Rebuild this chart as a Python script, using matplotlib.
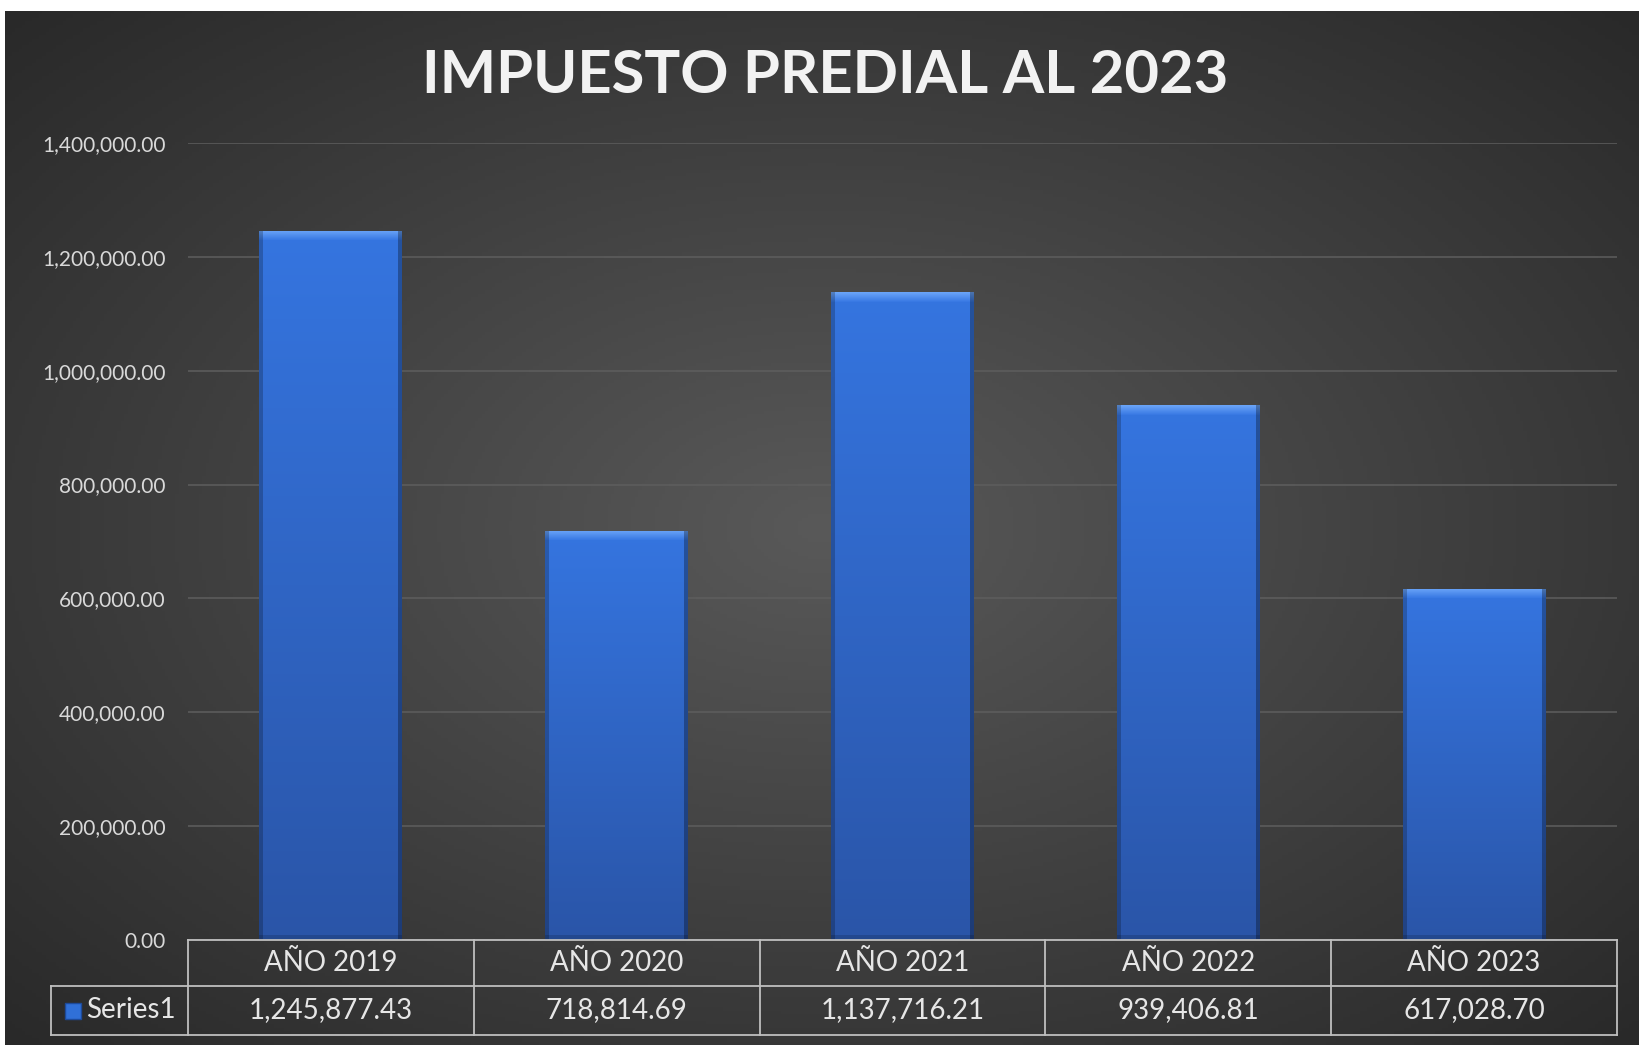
import numpy as np
import matplotlib
matplotlib.use('Agg')
import matplotlib.pyplot as plt
from matplotlib.colors import to_rgb
from matplotlib.transforms import blended_transform_factory


years = ['AÑO 2019', 'AÑO 2020', 'AÑO 2021', 'AÑO 2022', 'AÑO 2023']
values = [1245877.43, 718814.69, 1137716.21, 939406.81, 617028.70]
series_name = 'Series1'
yticks = [0, 200000, 400000, 600000, 800000, 1000000, 1200000, 1400000]
title = 'IMPUESTO PREDIAL AL 2023'

plt.rcParams['font.family'] = ['Lato', 'DejaVu Sans']

W, H = 1639, 1045
fig = plt.figure(figsize=(W / 100, H / 100), dpi=100)
fig.patch.set_facecolor('white')


def blend(c1, c2, t):
    c1 = np.array(to_rgb(c1))
    c2 = np.array(to_rgb(c2))
    t = np.asarray(t)[..., None]
    return c1 * (1 - t) + c2 * t


# dark radial background
bg = fig.add_axes([5 / W, 0, 1 - 5 / W, 1 - 11 / H])
bg.axis('off')
yy, xx = np.mgrid[0:1:300j, 0:1:480j]
r = np.sqrt(((xx - 0.5) / 0.75) ** 2 + ((yy - 0.5) / 0.75) ** 2)
bg.imshow(blend('#595959', '#262626', np.clip(r, 0, 1)), aspect='auto',
          extent=[0, 1, 0, 1], origin='upper')
bg.set_xlim(0, 1)
bg.set_ylim(0, 1)

# plot area
left, right, bottom, top = 188, 1617, 940, 143
ax = fig.add_axes([left / W, 1 - bottom / H, (right - left) / W, (bottom - top) / H])
ax.patch.set_alpha(0)
ax.set_xlim(-0.5, len(years) - 0.5)
ax.set_ylim(0, 1400000)
ax.set_yticks(yticks)
ax.set_yticklabels([f'{v:,.2f}' for v in yticks], color='#d9d9d9', fontsize=15)
ax.tick_params(axis='y', length=0, pad=16)
ax.set_xticks([])
for s in ax.spines.values():
    s.set_visible(False)
ax.grid(axis='y', color='#5e5e5e', lw=1.1, zorder=0)
ax.set_axisbelow(True)

bars = ax.bar(range(len(years)), values, width=0.5, color='#2f63c8', zorder=3)

# bevelled gradient fill for each bar
px_per_x = (right - left) / len(years)
px_per_y = (bottom - top) / 1400000
for b in bars:
    bw = int(round(b.get_width() * px_per_x))
    bh = int(round(b.get_height() * px_per_y))
    t = np.linspace(0, 1, bh)[:, None] * np.ones((1, bw))
    img = blend('#3575e0', '#2a55a8', t)
    bev = 10
    img[:bev, :] = blend('#6aa4f8', '#3a7ae4', np.linspace(0, 1, bev))[:, None, :]
    img[:, :4] = img[:, :4] * 0.78
    img[:, -4:] = img[:, -4:] * 0.7
    img[-5:, :] = img[-5:, :] * 0.85
    x0 = b.get_x()
    im = ax.imshow(img, extent=[x0, x0 + b.get_width(), 0, b.get_height()],
                   aspect='auto', origin='upper', zorder=4)
    im.set_clip_path(b)

# data table under the axis
tr = blended_transform_factory(ax.transData, ax.transAxes)
ah = bottom - top
row1 = -46 / ah
row2 = -95 / ah
leg_left = -0.5 - (left - 51) / px_per_x
lc = '#bfbfbf'
n = len(years)
ax.plot([-0.5, n - 0.5], [0, 0], transform=tr, color=lc, lw=1.3, clip_on=False, zorder=5)
ax.plot([leg_left, n - 0.5], [row1, row1], transform=tr, color=lc, lw=1.3, clip_on=False)
ax.plot([leg_left, n - 0.5], [row2, row2], transform=tr, color=lc, lw=1.3, clip_on=False)
ax.plot([leg_left, leg_left], [row1, row2], transform=tr, color=lc, lw=1.3, clip_on=False)
for i in range(n + 1):
    ax.plot([i - 0.5, i - 0.5], [0, row2], transform=tr, color=lc, lw=1.3, clip_on=False)
for i, (yr, v) in enumerate(zip(years, values)):
    ax.text(i, row1 / 2, yr, transform=tr, ha='center', va='center',
            color='#e6e6e6', fontsize=20)
    ax.text(i, (row1 + row2) / 2, f'{v:,.2f}', transform=tr, ha='center',
            va='center', color='#e6e6e6', fontsize=20)

# legend key
key_x = leg_left + 22 / px_per_x
ax.plot([key_x], [(row1 + row2) / 2], transform=tr, marker='s', ms=11,
        color='#3070d8', mec='#1d4a9a', clip_on=False)
ax.text(key_x + 13 / px_per_x, (row1 + row2) / 2, series_name, transform=tr,
        ha='left', va='center', color='#e6e6e6', fontsize=20)

fig.text(825 / W, 1 - 76 / H, title, ha='center', va='center', color='#f2f2f2',
         fontsize=43, fontweight='bold')

fig.savefig('out.png', dpi=100, facecolor=fig.get_facecolor())
